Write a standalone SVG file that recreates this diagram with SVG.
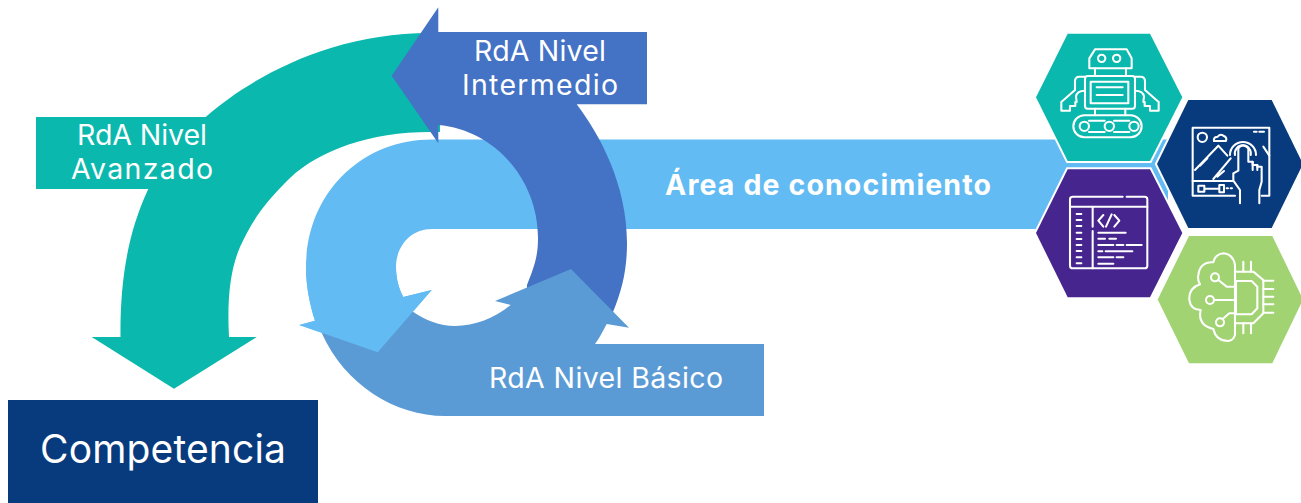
<svg xmlns="http://www.w3.org/2000/svg" width="1301" height="503" viewBox="0 0 1301 503">
<style>
text{font-family:"Inter","Liberation Sans",sans-serif;fill:#fff;font-size:28.500px;font-weight:400}
.hex{stroke:#fff;stroke-width:4;paint-order:stroke}
.ic{fill:none;stroke:#fff;stroke-width:6.200;stroke-linejoin:round;stroke-linecap:round}
.teal{fill:#0BB8AD}.dark{fill:#4472C4}.light{fill:#62BBF3}.basic{fill:#5B9BD5}
</style>
<rect width="1301" height="503" fill="#fff"/>
<g id="arrow-avanzado">
<path class="teal" d="M36 117H205.700C250 78 330 33 430 33L440 33V132H430C370 132 320 150 290 178C262 205 250 225 240 247C230 270 227 300 229 337H256.700L174 388.700L91.700 337H120.500C120 280 128 232 148.300 189H36Z"/>
<text x="142" y="145" text-anchor="middle" textLength="130" lengthAdjust="spacing">RdA Nivel</text>
<text x="142" y="179" text-anchor="middle" textLength="142" lengthAdjust="spacing">Avanzado</text>
</g>
<g id="arrow-conocimiento">
<path class="light" d="M1168 139.500H432C360 139.500 306 195 306 267C306 287 310 305 315 320.700L299.300 325L377.700 352.300L431.700 290L403.300 297C398 287 396 277 396 267C396 247 410 229 432 229H1168Z"/>
<text x="828" y="194.500" text-anchor="middle" textLength="326" lengthAdjust="spacing" style="font-weight:700;font-size:28.500px">Área de conocimiento</text>
</g>
<g id="arrow-intermedio">
<path class="dark" d="M391.700 75.700L438.300 7.300V32H647V104.300H576.700C600 135 627 185 627 243C627 270 622 290 613 312L605 320L527 292L527 285C535 265 538 255 538 238C538 180 495 130 438.300 125V143.300Z"/>
<text x="540" y="60.700" text-anchor="middle" textLength="132" lengthAdjust="spacing">RdA Nivel</text>
<text x="540" y="95" text-anchor="middle" textLength="156" lengthAdjust="spacing">Intermedio</text>
</g>
<g id="arrow-basico">
<path class="basic" d="M764 344V416H445C395 416 345 385 321.700 333L400 302L413 311.700C425 320 440 326 455 326C475 326 495 318 510.700 305L495 301L571 269L629 327.700L606.700 324C603 331 600 337 595 344Z"/>
<text x="606" y="388" text-anchor="middle" textLength="234" lengthAdjust="spacing">RdA Nivel Básico</text>
</g>
<g id="arrow-conocimiento-punta">
<path class="light" d="M306 262V267C306 287 310 305 315 320.700L299.300 325L377.700 352.300L431.700 290L403.300 297C398 287 396 277 396 267V262Z"/>
</g>
<g id="competencia">
<rect x="8" y="400" width="310" height="103" fill="#083A7E"/>
<text x="163" y="463.300" text-anchor="middle" textLength="246" lengthAdjust="spacing" style="font-size:39px">Competencia</text>
</g>
<g id="hex-robot">
<polygon class="hex" fill="#0BB8AD" points="1067.700,33.700 1150,33.700 1182.300,97.300 1150,161 1067.700,161 1036,97.300"/>
<g class="ic" transform="translate(1050 40) scale(.3333)">
<path d="M118 55L135 28H230L245 55V85H118Z"/>
<circle cx="155" cy="55" r="11"/><circle cx="200" cy="55" r="11"/>
<path d="M135 85V108M228 85V108"/>
<rect x="105" y="108" width="150" height="98" rx="8"/>
<rect x="122" y="125" width="113" height="65"/>
<path d="M140 142H218M140 165H218"/>
<path d="M105 110H88Q75 110 75 124V150L34 186V212H60V198H76V186H80L78 170Q80 152 105 152"/>
<path d="M255 110H272Q285 110 285 124V150L326 186V212H300V198H284V186H280L282 170Q280 152 255 152"/>
<path d="M135 206V226M226 206V226"/>
<rect x="70" y="226" width="205" height="66" rx="33"/>
<circle cx="103" cy="259" r="14"/><circle cx="178" cy="259" r="14"/><circle cx="252" cy="259" r="14"/>
<path d="M117 242H164M192 242H238M117 276H164M192 276H238"/>
</g>
</g>
<g id="hex-touch">
<polygon class="hex" fill="#083A7E" points="1188.300,100 1271.700,100 1303,164 1271.700,228 1188.300,228 1157,164"/>
<g class="ic" transform="translate(1180 115) scale(.3333)">
<path d="M165 242H38V38H268V242H245"/>
<circle cx="67" cy="67" r="14"/>
<path d="M102 78Q100 65 112 66Q120 55 130 62Q142 66 138 78Z"/>
<path d="M222 50H230M238 50H252"/>
<path d="M45 165L115 92L142 122M100 192L152 130M60 152L82 130M112 185L132 168M250 95L268 122"/>
<path d="M38 198H158M55 212H73V230H55ZM75 221H114M118 210H132V232H118ZM140 220H144M152 220H156"/>
<path d="M180 265V225L160 197V175L175 167V100Q188 82 205 100V140H218V150H232V155H245V200L238 225V265"/>
<path d="M218 140V165M232 150V165"/>
<path d="M165 120A24 24 0 1 1 212 120M150 120A39 39 0 1 1 228 120"/>
</g>
</g>
<g id="hex-code">
<polygon class="hex" fill="#46258F" points="1067.700,169.300 1150,169.300 1182.300,233 1150,297.300 1067.700,297.300 1036,233"/>
<g class="ic" transform="translate(1060 185) scale(.3333)">
<path d="M188 35H38Q30 35 30 43V242Q30 250 38 250H254Q262 250 262 242V43Q262 35 254 35H200"/>
<path d="M30 65H262M98 65V125M98 138V250"/>
<path d="M50 87H64M50 105H64M50 123H64M50 143H64M50 162H64M50 180H64M50 198H64M50 217H64M50 235H64"/>
<path d="M130 90L115 107L130 125M163 90L178 107L163 125M155 88L138 125"/>
<path d="M115 143H197M115 161H135M148 161H168M115 180H160M170 180H190M200 180H245M115 199H127M137 199H217M115 217H160M170 217H190M115 236H160"/>
</g>
</g>
<g id="hex-ia">
<polygon class="hex" fill="#A1D373" points="1189,236 1272.300,236 1303,299.500 1272.300,363.300 1189,363.300 1157.700,299.500"/>
<g class="ic" transform="translate(1180 245) scale(.3333)">
<path d="M165 60Q160 28 130 25Q105 28 100 52Q60 50 55 90Q52 105 60 118Q25 130 28 165Q32 195 62 195Q52 240 100 252Q108 288 145 288Q160 286 165 270V60"/>
<circle cx="105" cy="97" r="12"/><path d="M115 105L140 125H168"/>
<circle cx="90" cy="165" r="12"/><path d="M102 165H168"/>
<circle cx="120" cy="232" r="12"/><path d="M128 222L148 205H168"/>
<path d="M168 80H220L250 105V205L220 235H168"/>
<path d="M168 108H215L232 125V190L215 208H168Z"/>
<path d="M190 50V80M213 50V80M190 235V265M213 235V265"/>
<path d="M250 107H280M250 132H280M250 155H280M250 178H280M250 203H280"/>
</g>
</g>
</svg>
